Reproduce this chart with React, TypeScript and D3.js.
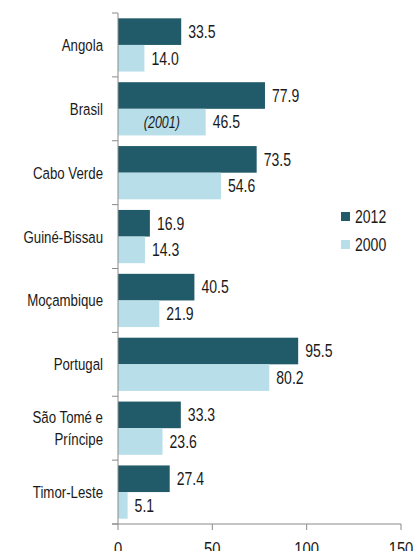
import React from 'react';
import * as d3 from 'd3';

const width = 416;
const height = 551;
const margin = {top: 13, right: 15, bottom: 27, left: 118};
const dark = '#215a68';
const light = '#b8dfe9';
const font = '"Liberation Sans", Arial, sans-serif';
const squeeze = 0.78;

const countries = ['Angola', 'Brasil', 'Cabo Verde', 'Guiné-Bissau', 'Moçambique', 'Portugal', 'São Tomé e\nPríncipe', 'Timor-Leste'];
const values2012 = [33.5, 77.9, 73.5, 16.9, 40.5, 95.5, 33.3, 27.4];
const values2000 = [14.0, 46.5, 54.6, 14.3, 21.9, 80.2, 23.6, 5.1];
const series = ['2012', '2000'];
const xTicks = [0, 50, 100, 150];

// condensed look: no narrow font installed, so squeeze horizontally
const Narrow = ({x, y, anchor = 'start', size = 18, italic = false, children}) => (
  <g transform={`translate(${x},${y}) scale(${squeeze},1)`}>
    <text textAnchor={anchor} dy="0.35em" fontSize={size} fontStyle={italic ? 'italic' : 'normal'} fill="#1a1a1a">{children}</text>
  </g>
);

const App = () => {
  const xScale = d3.scaleLinear().domain([0, 150]).range([margin.left, 401]);
  const yScale = d3.scaleBand().domain(countries).range([margin.top, height - margin.bottom]).paddingInner(0);
  const inner = d3.scaleBand().domain(series).range([0, yScale.bandwidth()]).paddingOuter(0.2).paddingInner(0);
  const axisY = height - margin.bottom;
  const boundaries = countries.map(c => yScale(c)).concat([axisY]);

  return (
    <svg width={width} height={height} style={{position: 'absolute', left: 0, top: 0}} fontFamily={font}>
      {countries.map((c, i) => {
        const y0 = yScale(c);
        const lines = c.split('\n');
        const cy = y0 + yScale.bandwidth() / 2;
        return (
          <g key={c}>
            <rect x={xScale(0)} y={y0 + inner('2012')} width={xScale(values2012[i]) - xScale(0)} height={inner.bandwidth()} fill={dark} />
            <rect x={xScale(0)} y={y0 + inner('2000')} width={xScale(values2000[i]) - xScale(0)} height={inner.bandwidth()} fill={light} />
            <Narrow x={xScale(values2012[i]) + 7} y={y0 + inner('2012') + inner.bandwidth() / 2}>{values2012[i].toFixed(1)}</Narrow>
            <Narrow x={xScale(values2000[i]) + 7} y={y0 + inner('2000') + inner.bandwidth() / 2}>{values2000[i].toFixed(1)}</Narrow>
            {lines.map((l, k) => (
              <Narrow key={k} x={103} y={cy - (lines.length - 1) * 11 + k * 22} anchor="end" size={17}>{l}</Narrow>
            ))}
          </g>
        );
      })}
      <Narrow x={(xScale(0) + xScale(values2000[1])) / 2} y={yScale('Brasil') + inner('2000') + inner.bandwidth() / 2} anchor="middle" size={16} italic>(2001)</Narrow>
      <g stroke="#8a8a8a" strokeWidth={1}>
        <line x1={xScale(0)} x2={xScale(0)} y1={margin.top} y2={axisY} />
        <line x1={xScale(0) - 6} x2={xScale(150)} y1={axisY} y2={axisY} />
        {boundaries.map((b, i) => (
          <line key={i} x1={xScale(0) - 6} x2={xScale(0)} y1={b} y2={b} />
        ))}
        {xTicks.map(t => (
          <line key={t} x1={xScale(t)} x2={xScale(t)} y1={axisY} y2={axisY + 6} />
        ))}
      </g>
      {xTicks.map(t => (
        <Narrow key={t} x={xScale(t)} y={axisY + 24} anchor="middle" size={19}>{t}</Narrow>
      ))}
      {series.map((s, i) => (
        <g key={s}>
          <rect x={341} y={212 + i * 28} width={9} height={9} fill={i === 0 ? dark : light} />
          <Narrow x={355} y={216.5 + i * 28}>{s}</Narrow>
        </g>
      ))}
    </svg>
  );
};

export default App;
